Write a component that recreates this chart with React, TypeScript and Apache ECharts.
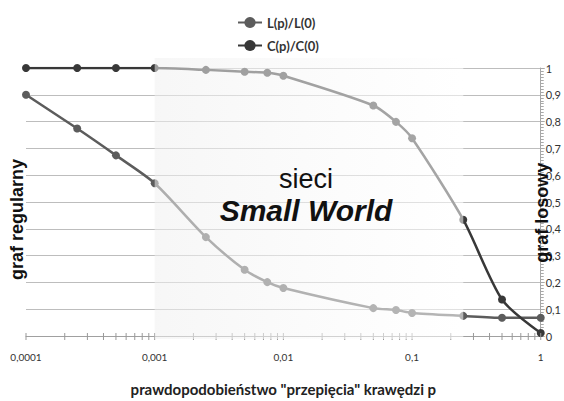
import React, { useEffect, useRef } from "react";
import * as echarts from "echarts";

const pValues = [0.0001, 0.00025, 0.0005, 0.001, 0.0025, 0.005, 0.0075, 0.01, 0.05, 0.075, 0.1, 0.25, 0.5, 1];
const cValues = [1, 1, 1, 1, 0.993, 0.986, 0.982, 0.971, 0.86, 0.799, 0.738, 0.434, 0.136, 0.011];
const lValues = [0.9, 0.774, 0.674, 0.57, 0.369, 0.247, 0.201, 0.179, 0.104, 0.097, 0.086, 0.075, 0.068, 0.068];
const decades = [0.0001, 0.001, 0.01, 0.1];
const minorMultipliers = [1, 2, 3, 4, 5, 6, 7, 8, 9];
const seriesNames = ["L(p)/L(0)", "C(p)/C(0)"];
const xTitle = 'prawdopodobieństwo "przepięcia" krawędzi p';

const tickValues: number[] = [];
decades.forEach((d) => minorMultipliers.forEach((m) => tickValues.push(d * m)));
tickValues.push(1);

const fmt = (v: number) => String(+(+v).toPrecision(4)).replace(".", ",");

export default function App() {
  const ref = useRef<HTMLDivElement>(null);
  useEffect(() => {
    if (!ref.current) return;
    const chart = echarts.init(ref.current, null, { renderer: "svg" });
    const option: any = {
      animation: false,
      backgroundColor: "#ffffff",
      legend: {
        orient: "vertical",
        left: 232,
        top: 11,
        itemGap: 10,
        itemWidth: 24,
        itemHeight: 14,
        textStyle: { fontFamily: "Lato", fontWeight: "bold", fontSize: 13, color: "#333" },
        data: seriesNames,
      },
      grid: { left: 26, right: 17, top: 68, bottom: 54, containLabel: false },
      xAxis: {
        type: "log",
        logBase: 10,
        min: 0.0001,
        max: 1,
        name: xTitle,
        nameLocation: "middle",
        nameGap: 45,
        nameTextStyle: { fontFamily: "Lato", fontWeight: "bold", fontSize: 15, color: "#222" },
        axisLine: { show: true, onZero: false, lineStyle: { color: "#a0a0a0", width: 1 } },
        axisTick: { show: false },
        axisLabel: {
          formatter: (v: number) => fmt(v),
          fontFamily: "Lato",
          fontSize: 10,
          color: "#333",
          margin: 16,
        },
        splitLine: { show: false },
      },
      yAxis: {
        type: "value",
        position: "right",
        min: 0,
        max: 1,
        interval: 0.1,
        axisLine: { show: true, lineStyle: { color: "#a8a8a8", width: 1 } },
        axisTick: { show: true, length: 4, lineStyle: { color: "#a8a8a8" } },
        minorTick: { show: true, splitNumber: 9, length: 3, lineStyle: { color: "#a8a8a8" } },
        axisLabel: { formatter: (v: number) => fmt(v), fontFamily: "Lato", fontSize: 11, color: "#333", margin: 5 },
        splitLine: { show: true, lineStyle: { color: "#bdbdbd", width: 1 } },
      },
      series: [
        {
          name: seriesNames[0],
          type: "line",
          data: pValues.map((p, i) => [p, lValues[i]]),
          smooth: 0.25,
          symbol: "circle",
          symbolSize: 8,
          lineStyle: { color: "#5c5c5c", width: 2.5 },
          itemStyle: { color: "#5c5c5c" },
          z: 3,
        },
        {
          name: seriesNames[1],
          type: "line",
          data: pValues.map((p, i) => [p, cValues[i]]),
          smooth: 0.25,
          symbol: "circle",
          symbolSize: 8,
          lineStyle: { color: "#383838", width: 2.5 },
          itemStyle: { color: "#383838" },
          z: 4,
        },
      ],
    };
    chart.setOption(option);

    const px = (v: number) => chart.convertToPixel({ xAxisIndex: 0 }, v) as number;
    const py = (v: number) => chart.convertToPixel({ yAxisIndex: 0 }, v) as number;
    const x1 = px(0.001);
    const x2 = px(0.25);
    const y0 = py(0);
    const yTop = py(1) - 10;
    const yBot = y0 + 3;
    const xMid = px(0.015);

    const tickLines = tickValues.map((t) => ({
      type: "line",
      z: 20,
      silent: true,
      shape: { x1: px(t), y1: y0 - 3, x2: px(t), y2: y0 + 4 },
      style: { stroke: "#999", lineWidth: 1 },
    }));

    chart.setOption({
      graphic: [
        ...tickLines,
        {
          type: "rect",
          z: 50,
          silent: true,
          shape: { x: x1, y: yTop, width: x2 - x1, height: yBot - yTop },
          style: {
            fill: new echarts.graphic.LinearGradient(0, 0, 1, 0, [
              { offset: 0, color: "rgba(240,240,240,0.55)" },
              { offset: 0.5, color: "rgba(248,248,248,0.55)" },
              { offset: 1, color: "rgba(255,255,255,0.55)" },
            ]),
          },
        },
        {
          type: "text",
          z: 100,
          x: xMid,
          y: py(0.585),
          style: {
            text: "sieci",
            fontFamily: "Liberation Sans",
            fontSize: 27,
            fill: "#111",
            textAlign: "center",
            textVerticalAlign: "middle",
          },
        },
        {
          type: "text",
          z: 100,
          x: xMid,
          y: py(0.47),
          style: {
            text: "Small World",
            fontFamily: "Liberation Sans",
            fontSize: 30,
            fontWeight: "bold",
            fontStyle: "italic",
            fill: "#111",
            textAlign: "center",
            textVerticalAlign: "middle",
          },
        },
        {
          type: "text",
          z: 100,
          x: 17,
          y: py(0.435),
          rotation: Math.PI / 2,
          style: {
            text: "graf regularny",
            fontFamily: "Liberation Sans",
            fontSize: 18,
            fontWeight: "bold",
            fill: "#111",
            textAlign: "center",
            textVerticalAlign: "middle",
          },
        },
        {
          type: "text",
          z: 100,
          x: px(1) + 1,
          y: py(0.46),
          rotation: Math.PI / 2,
          style: {
            text: "graf losowy",
            fontFamily: "Liberation Sans",
            fontSize: 18,
            fontWeight: "bold",
            fill: "#111",
            textAlign: "center",
            textVerticalAlign: "middle",
          },
        },
      ],
    });
    return () => chart.dispose();
  }, []);
  return <div ref={ref} style={{ position: "fixed", left: 0, top: 0, width: 564, height: 401 }} />;
}
